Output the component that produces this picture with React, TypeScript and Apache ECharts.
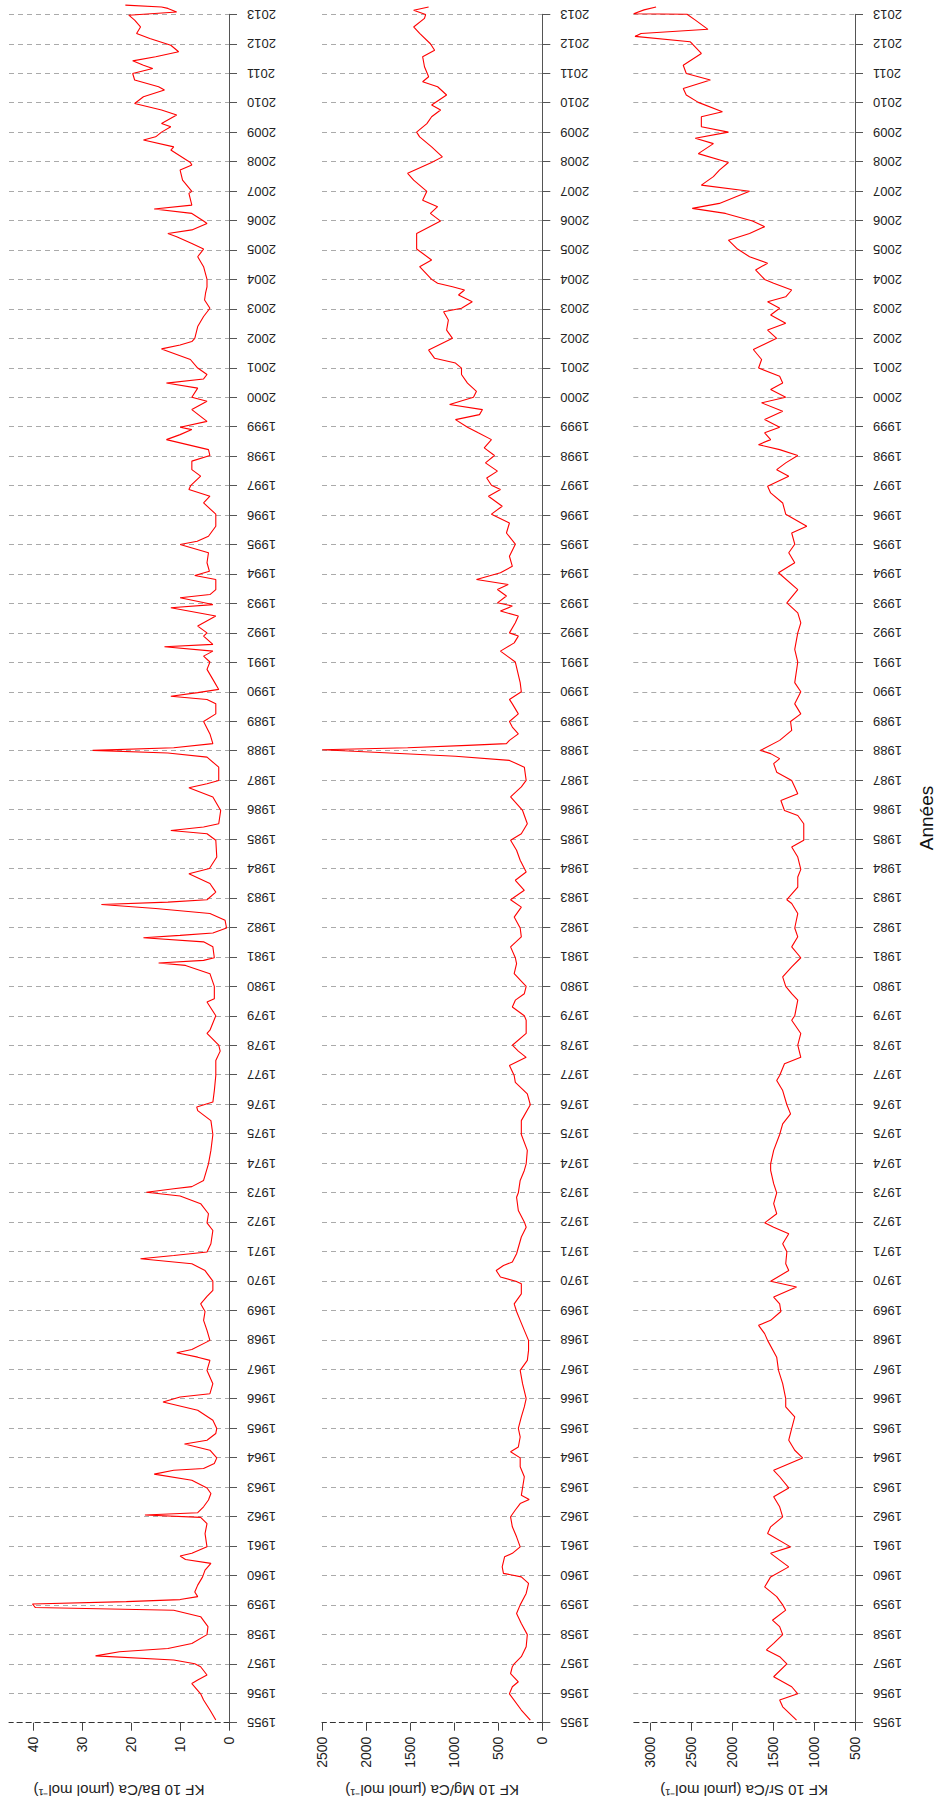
import React, { useEffect, useRef } from "react";
import * as echarts from "echarts";

// ---- data (years as decimal dates, values in µmol/mol) ----
const baYears = [1955.09,1955.43,1955.77,1955.98,1956.33,1956.45,1956.62,1956.9,1957.0,1957.13,1957.27,1957.41,1957.52,1957.69,1957.99,1958.26,1958.6,1958.82,1958.91,1959.03,1959.11,1959.18,1959.28,1959.44,1959.67,1959.95,1960.18,1960.41,1960.54,1960.66,1960.75,1960.97,1961.42,1961.76,1961.97,1962.05,1962.13,1962.33,1962.56,1962.78,1962.97,1963.23,1963.44,1963.57,1963.63,1963.8,1963.99,1964.25,1964.46,1964.59,1964.82,1964.99,1965.27,1965.61,1965.89,1966.06,1966.17,1966.51,1966.96,1967.3,1967.41,1967.56,1967.67,1967.98,1968.32,1968.66,1968.96,1969.22,1969.47,1969.68,1969.99,1970.35,1970.58,1970.75,1970.86,1970.98,1971.26,1971.71,1971.97,1972.28,1972.62,1972.88,1973.01,1973.13,1973.2,1973.41,1973.97,1974.43,1974.97,1975.44,1975.78,1975.9,1976.07,1976.46,1976.97,1977.48,1977.8,1978.0,1978.4,1978.51,1979.0,1979.47,1979.58,1980.0,1980.43,1980.71,1980.79,1980.88,1980.97,1981.34,1981.51,1981.65,1981.73,1981.81,1981.98,1982.24,1982.47,1982.64,1982.78,1982.86,1982.94,1983.2,1983.49,1983.82,1984.0,1984.39,1984.96,1985.18,1985.29,1985.41,1985.52,1985.97,1986.43,1986.74,1986.88,1986.99,1987.44,1987.78,1987.92,1988.01,1988.1,1988.24,1988.57,1988.99,1989.25,1989.59,1989.74,1989.85,1989.97,1990.08,1990.42,1990.76,1991.01,1991.21,1991.38,1991.53,1991.61,1991.89,1992.0,1992.23,1992.57,1992.85,1992.96,1993.19,1993.3,1993.47,1993.81,1993.95,1994.09,1994.38,1994.72,1995.0,1995.11,1995.28,1995.62,1996.03,1996.41,1996.64,1996.87,1997.01,1997.32,1997.54,1997.83,1998.02,1998.22,1998.56,1998.73,1998.9,1998.98,1999.18,1999.58,1999.86,2000.0,2000.31,2000.48,2000.62,2000.77,2000.99,2001.28,2001.64,2001.77,2001.89,2002.0,2002.4,2002.74,2003.02,2003.3,2003.53,2003.75,2004.0,2004.43,2004.77,2005.03,2005.22,2005.45,2005.56,2005.68,2005.9,2005.98,2006.24,2006.39,2006.52,2006.92,2006.99,2007.37,2007.71,2007.88,2007.97,2008.39,2008.5,2008.73,2008.84,2009.0,2009.18,2009.29,2009.58,2009.75,2009.97,2010.2,2010.43,2010.54,2010.77,2010.99,2011.16,2011.27,2011.42,2011.56,2011.73,2011.95,2012.18,2012.35,2012.57,2012.8,2012.97,2013.08,2013.2,2013.25,2013.31];
const baValues = [2.7,3.9,5.2,5.8,7.6,6.4,4.5,5.8,7.0,11.3,27.3,22.4,12.5,7.6,4.5,4.3,5.8,11.3,39.6,40.2,21,10,6.4,7.0,6.4,5.4,4.9,3.7,8.9,10,7.6,4.5,4.9,4.5,5.8,17.2,6.4,5.2,4.2,3.7,4.5,7.6,15.3,11.3,5.2,3.0,2.5,3.9,9.1,4.5,2.7,2.5,3.3,6.4,13.5,10,3.9,3.3,4.5,3.9,6.4,10.7,7.6,3.9,4.5,5.2,4.9,5.8,4.5,3.3,3.3,4.9,7.6,18.1,11.3,4.5,3.7,3.3,4.5,4.2,5.8,10,16.9,11.3,7.6,5.2,4.2,3.7,3.3,3.7,6.4,6.6,3.3,3.0,2.7,2.7,1.8,2.1,4.5,3.9,2.7,4.5,3.0,3.0,3.9,8.9,14.4,5.2,3.0,3.3,5.2,17.5,10,3.3,0.5,0.8,3.9,15,26.1,12.5,4.5,2.7,3.9,8.2,4.0,2.5,2.7,4.5,11.9,5.2,2.1,1.7,3.3,8.2,4.5,2.1,2.1,4.5,12.5,27.9,11.3,3.3,3.9,5.2,2.7,2.7,4.5,11.9,6.4,2.1,3.3,4.5,3.9,5.2,3.3,13.2,3.3,5.2,4.5,6.4,2.7,11.9,3.3,10,3.9,2.7,2.7,7.0,4.0,4.5,4.2,10,6.5,4.2,2.7,2.7,5.2,3.9,8.2,7.8,5.8,7.6,7.6,3.9,4.2,12.8,10,7.6,10,4.5,7.6,4.5,7.6,6.4,12.8,5.2,4.5,6.4,7.9,13.8,10,7.6,7.0,6.4,5.2,3.9,5.0,4.8,4.5,4.5,5.2,6.4,5.2,7.6,10.7,12.5,7.6,4.5,5.2,7.6,15.3,7.6,8.2,7.6,9.5,10,7.6,7.9,11.9,11.3,17.5,15,13.8,11.9,13.8,10.7,13.8,19.3,17.5,13.2,14.4,19.3,19.7,15.6,17.5,19.7,15,10.3,11.9,16.2,18.9,18.1,19.3,20.5,10.7,12.5,13.8,21.2];

const mgYears = [1955.09,1955.43,1955.98,1956.22,1956.39,1956.67,1956.9,1957.0,1957.24,1957.58,1957.99,1958.37,1958.71,1959.0,1959.39,1959.73,1959.95,1960.07,1960.29,1960.63,1960.75,1960.97,1961.31,1961.65,1961.99,1962.22,1962.44,1962.58,1962.72,1962.97,1963.35,1963.69,1963.99,1964.2,1964.36,1964.7,1964.99,1965.38,1965.72,1966.0,1966.51,1966.96,1967.3,1967.64,1967.98,1968.32,1968.66,1968.96,1969.22,1969.56,1969.9,1969.99,1970.13,1970.35,1970.52,1970.64,1970.92,1971.49,1971.82,1971.97,1972.39,1972.84,1972.99,1973.41,1973.75,1973.97,1974.43,1974.97,1975.44,1975.98,1976.35,1976.74,1976.97,1977.31,1977.59,1977.8,1978.0,1978.4,1978.85,1979.0,1979.3,1979.53,1979.75,1980.0,1980.43,1980.77,1980.97,1981.34,1981.68,1981.98,1982.35,1982.69,1982.94,1983.26,1983.6,1983.88,1984.28,1984.62,1984.96,1985.18,1985.52,1985.97,1986.43,1986.77,1986.99,1987.44,1987.67,1987.81,1987.92,1988.03,1988.1,1988.18,1988.24,1988.35,1988.57,1988.8,1988.99,1989.25,1989.59,1989.74,1990.0,1990.31,1991.01,1991.38,1991.66,1991.89,1992.0,1992.34,1992.57,1992.74,1992.91,1993.02,1993.25,1993.47,1993.64,1993.81,1994.04,1994.26,1994.6,1995.01,1995.39,1995.73,1996.03,1996.3,1996.64,1996.87,1997.01,1997.26,1997.49,1997.77,1998.02,1998.28,1998.56,1998.79,1998.98,1999.24,1999.41,1999.58,1999.75,2000.0,2000.2,2000.48,2000.77,2000.99,2001.16,2001.32,2001.6,2002.0,2002.28,2002.62,2002.9,2003.02,2003.24,2003.47,2003.64,2003.75,2003.87,2004.0,2004.43,2004.66,2005.03,2005.56,2005.98,2006.24,2006.47,2006.69,2006.99,2007.37,2007.6,2007.97,2008.16,2008.5,2008.84,2009.0,2009.29,2009.52,2009.75,2009.92,2010.26,2010.54,2010.71,2010.88,2011.22,2011.56,2011.78,2012.0,2012.35,2012.57,2012.86,2012.99,2013.14,2013.25];
const mgValues = [136,238,373,340,272,360,340,319,238,183,170,238,292,251,183,156,238,441,455,428,340,251,292,340,360,306,251,149,238,224,204,251,251,360,272,251,272,238,204,183,224,251,170,156,156,204,251,292,319,238,238,300,475,523,441,340,292,238,183,200,272,292,272,251,204,183,170,238,238,136,170,306,319,373,183,272,340,183,183,204,340,306,204,183,319,292,306,360,238,251,319,238,360,204,306,183,251,292,360,238,170,224,360,238,183,204,373,985,1731,2499,1528,849,407,373,272,340,373,272,340,373,238,251,306,475,319,272,373,306,272,475,340,509,407,509,387,747,475,340,373,306,407,373,577,455,611,475,577,631,509,645,543,659,577,727,849,985,713,679,1052,781,747,849,917,917,985,1222,1290,1019,1086,1066,1120,917,795,951,883,1019,1188,1256,1392,1256,1426,1426,1154,1270,1188,1358,1310,1460,1528,1256,1134,1256,1392,1426,1310,1256,1154,1256,1086,1188,1358,1290,1337,1358,1222,1270,1392,1460,1337,1324,1460,1290];

const srYears = [1955.09,1955.54,1955.77,1955.98,1956.22,1956.56,1957.0,1957.24,1957.47,1957.69,1957.99,1958.26,1958.48,1958.82,1959.0,1959.28,1959.61,1959.95,1960.29,1960.52,1960.75,1960.97,1961.42,1961.65,1961.99,1962.33,1962.67,1962.97,1963.35,1963.57,1963.99,1964.25,1964.59,1964.99,1965.38,1965.72,1966.0,1966.51,1966.96,1967.41,1967.98,1968.21,1968.49,1968.66,1968.96,1969.22,1969.45,1969.79,1969.99,1970.35,1970.58,1970.99,1971.26,1971.6,1971.82,1971.97,1972.28,1972.62,1972.99,1973.3,1973.75,1973.97,1974.43,1974.97,1975.33,1975.67,1975.98,1976.46,1976.8,1976.97,1977.37,1977.59,1978.0,1978.4,1978.85,1979.0,1979.53,1979.75,1980.0,1980.32,1980.66,1980.97,1981.34,1981.68,1981.98,1982.47,1982.81,1982.94,1983.37,1983.71,1983.97,1984.39,1984.73,1984.96,1985.52,1985.8,1985.97,1986.31,1986.54,1986.77,1986.99,1987.27,1987.56,1987.73,1987.9,1988.01,1988.35,1988.69,1988.99,1989.25,1989.59,1990.0,1990.31,1991.01,1991.44,1992.0,1992.34,1992.68,1993.02,1993.47,1994.04,1994.38,1994.72,1995.01,1995.39,1995.62,1996.03,1996.41,1996.75,1996.98,1997.32,1997.54,1997.77,1998.02,1998.22,1998.39,1998.56,1998.79,1998.98,1999.24,1999.52,1999.81,2000.0,2000.26,2000.48,2000.71,2000.99,2001.28,2001.62,2002.0,2002.28,2002.51,2002.79,2003.02,2003.24,2003.41,2003.64,2003.87,2004.0,2004.32,2004.55,2004.77,2005.03,2005.33,2005.56,2005.79,2005.98,2006.24,2006.41,2006.58,2006.99,2007.2,2007.49,2007.71,2007.97,2008.27,2008.61,2008.79,2009.0,2009.18,2009.52,2009.69,2010.01,2010.26,2010.48,2010.77,2010.99,2011.27,2011.67,2012.0,2012.07,2012.25,2012.35,2012.49,2012.81,2013.0,2013.02,2013.15,2013.25];
const srValues = [1213,1382,1419,1198,1272,1492,1331,1419,1580,1492,1382,1419,1507,1345,1382,1455,1602,1529,1308,1419,1529,1286,1566,1529,1382,1419,1492,1308,1419,1492,1139,1235,1308,1272,1235,1345,1345,1382,1433,1455,1566,1602,1676,1529,1404,1419,1492,1213,1529,1308,1345,1331,1382,1308,1492,1602,1455,1492,1455,1492,1529,1529,1492,1419,1382,1286,1331,1382,1455,1419,1360,1161,1198,1161,1272,1235,1198,1272,1345,1382,1272,1161,1272,1198,1235,1198,1272,1331,1198,1198,1161,1198,1272,1125,1125,1198,1360,1404,1198,1235,1272,1455,1492,1419,1529,1654,1419,1272,1286,1161,1235,1161,1235,1198,1235,1198,1161,1198,1331,1198,1433,1235,1308,1235,1272,1088,1345,1382,1529,1566,1308,1455,1345,1198,1419,1676,1529,1602,1419,1602,1382,1639,1345,1529,1382,1419,1676,1639,1740,1455,1566,1345,1529,1419,1566,1345,1272,1492,1602,1713,1566,1786,1933,2044,1786,1602,1750,2080,2485,2154,1786,2374,2227,2154,2044,2411,2227,2448,2044,2374,2374,2117,2411,2558,2595,2264,2558,2595,2374,2485,2512,3183,3110,2293,2451,2549,3200,3073,2926];

// ---- axis ticks / labels ----
const baTicks = [0, 10, 20, 30, 40];
const mgTicks = [0, 500, 1000, 1500, 2000, 2500];
const srTicks = [500, 1000, 1500, 2000, 2500, 3000];
const yearMin = 1955;
const yearMax = 2013;
const panelTitles = ["KF 10 Ba/Ca (µmol mol⁻¹)", "KF 10 Mg/Ca (µmol mol⁻¹)", "KF 10 Sr/Ca (µmol mol⁻¹)"];
const yearTitle = "Années";

const FONT = "'Liberation Sans', Arial, sans-serif";

export default function App() {
  const ref = useRef<HTMLDivElement>(null);

  useEffect(() => {
    if (!ref.current) return;
    const chart = echarts.init(ref.current, undefined, { renderer: "svg" });

    const gridTop = 14.3;
    const gridBottomY = 1722.7;
    const panels = [
      { left: 9, right: 229, min: 0, max: 45, ticks: baTicks, years: baYears, values: baValues },
      { left: 322, right: 542.3, min: 0, max: 2500, ticks: mgTicks, years: mgYears, values: mgValues },
      { left: 633.3, right: 855, min: 500, max: 3204, ticks: srTicks, years: srYears, values: srValues },
    ];

    const plain = (v: number) => String(v);

    const option: any = {
      animation: false,
      backgroundColor: "#ffffff",
      grid: panels.map((p) => ({
        left: p.left,
        width: p.right - p.left,
        top: gridTop,
        height: gridBottomY - gridTop,
      })),
      xAxis: panels.map((p, i) => ({
        type: "value",
        gridIndex: i,
        min: p.min,
        max: p.max,
        inverse: true,
        position: "bottom",
        axisLine: { show: true, onZero: false, lineStyle: { color: "#333", width: 1, type: [5, 4] } },
        axisTick: { show: true, length: 8, customValues: p.ticks, lineStyle: { color: "#444" } },
        axisLabel: {
          customValues: p.ticks,
          formatter: plain,
          rotate: 90,
          margin: 14,
          fontSize: 14,
          color: "#222",
          fontFamily: FONT,
        },
        splitLine: { show: false },
      })),
      yAxis: panels.map((p, i) => ({
        type: "value",
        gridIndex: i,
        min: yearMin,
        max: yearMax,
        interval: 1,
        position: "right",
        axisLine: { show: true, onZero: false, lineStyle: { color: "#555", width: 1 } },
        axisTick: { show: true, length: 8, lineStyle: { color: "#555" } },
        axisLabel: { formatter: plain, rotate: 180, margin: 18, fontSize: 13, color: "#222", fontFamily: FONT },
        splitLine: { show: true, lineStyle: { color: "#aaa", width: 1, type: [5, 4] } },
      })),
      series: panels.map((p, i) => ({
        type: "line",
        xAxisIndex: i,
        yAxisIndex: i,
        data: p.years.map((y, j) => [p.values[j], y]),
        showSymbol: false,
        symbol: "none",
        clip: false,
        lineStyle: { color: "#ff0000", width: 1.1 },
        z: 5,
      })),
      graphic: [
        ...panels.map((p, i) => ({
          type: "text",
          x: (p.left + p.right) / 2,
          y: 1790,
          rotation: Math.PI,
          style: {
            text: panelTitles[i],
            fontSize: 15,
            fontFamily: FONT,
            fill: "#222",
            align: "center",
            verticalAlign: "middle",
            textAlign: "center",
            textVerticalAlign: "middle",
          },
        })),
        {
          type: "text",
          x: 926,
          y: 818,
          rotation: Math.PI / 2,
          style: {
            text: yearTitle,
            fontSize: 19,
            fontFamily: FONT,
            fill: "#111",
            align: "center",
            verticalAlign: "middle",
            textAlign: "center",
            textVerticalAlign: "middle",
          },
        },
      ],
    };

    chart.setOption(option);
    return () => chart.dispose();
  }, []);

  return (
    <div
      ref={ref}
      style={{ position: "absolute", left: 0, top: 0, width: 940, height: 1807, background: "#fff" }}
    />
  );
}
